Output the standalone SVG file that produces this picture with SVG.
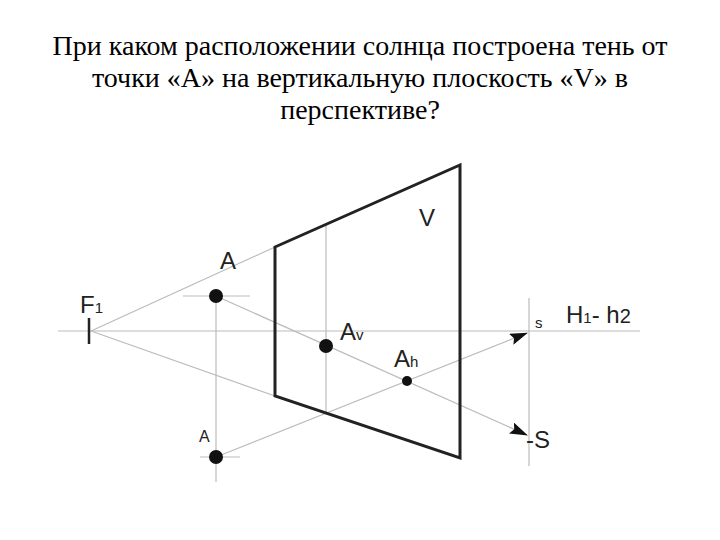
<svg xmlns="http://www.w3.org/2000/svg" width="720" height="540" viewBox="0 0 720 540">
<style>
.t{font-family:"Liberation Serif",serif;font-size:28px;fill:#000;text-anchor:middle}
.l{font-family:"Liberation Sans",Arial,sans-serif;fill:#222}
.g{stroke:#bbb;stroke-width:1.2;fill:none}
.k{stroke:#222;stroke-width:3;fill:none}
</style>
<defs><marker id="ar" markerWidth="18" markerHeight="12" refX="17" refY="6" orient="auto" markerUnits="userSpaceOnUse"><path d="M0,0L18,6L0,12L3,6z" fill="#111"/></marker></defs>
<rect width="720" height="540" fill="#fff"/>
<g id="title">
<text class="t" x="360" y="55">При каком расположении солнца построена тень от</text>
<text class="t" x="360" y="87">точки «A» на вертикальную плоскость «V» в</text>
<text class="t" x="360" y="119">перспективе?</text>
</g>
<g id="connectors">
<line class="g" x1="58" y1="331" x2="640" y2="331"/>
<line class="g" x1="91" y1="331" x2="275" y2="247"/>
<line class="g" x1="91" y1="331" x2="275" y2="396"/>
<line class="g" x1="216" y1="296" x2="216" y2="482"/>
<line class="g" x1="183" y1="296" x2="250" y2="296"/>
<line class="g" x1="200" y1="457" x2="240" y2="457"/>
<line class="g" x1="326" y1="225" x2="326" y2="413"/>
<line class="g" x1="529" y1="298" x2="529" y2="466"/>
<line class="g" x1="216" y1="296" x2="527" y2="435" marker-end="url(#ar)"/>
<line class="g" x1="216" y1="457" x2="527" y2="333" marker-end="url(#ar)"/>
</g>
<g id="plane">
<polygon class="k" points="275,247 460,165 460,458 275,396"/>
<text class="l" x="419" y="226" font-size="24">V</text>
</g>
<g id="F1">
<line x1="89" y1="318" x2="89" y2="344" stroke="#222" stroke-width="2.5"/>
<text class="l" x="80" y="313" font-size="24">F<tspan font-size="15">1</tspan></text>
</g>
<g id="A">
<circle cx="216" cy="296" r="7" fill="#111"/>
<text class="l" x="220" y="269" font-size="24">A</text>
</g>
<g id="A-low">
<circle cx="216" cy="457" r="7" fill="#111"/>
<text class="l" x="199" y="442" font-size="16">A</text>
</g>
<g id="Av">
<circle cx="326" cy="346" r="7" fill="#111"/>
<text class="l" x="340" y="340" font-size="24">A<tspan font-size="15">v</tspan></text>
</g>
<g id="Ah">
<circle cx="407" cy="381" r="5" fill="#111"/>
<text class="l" x="394" y="367" font-size="24">A<tspan font-size="15">h</tspan></text>
</g>
<g id="labels">
<text class="l" x="535" y="328" font-size="15">s</text>
<text class="l" x="566" y="323" font-size="24">H<tspan font-size="15">1</tspan>- h<tspan font-size="20">2</tspan></text>
<text class="l" x="526" y="448" font-size="24">-S</text>
</g>
</svg>
